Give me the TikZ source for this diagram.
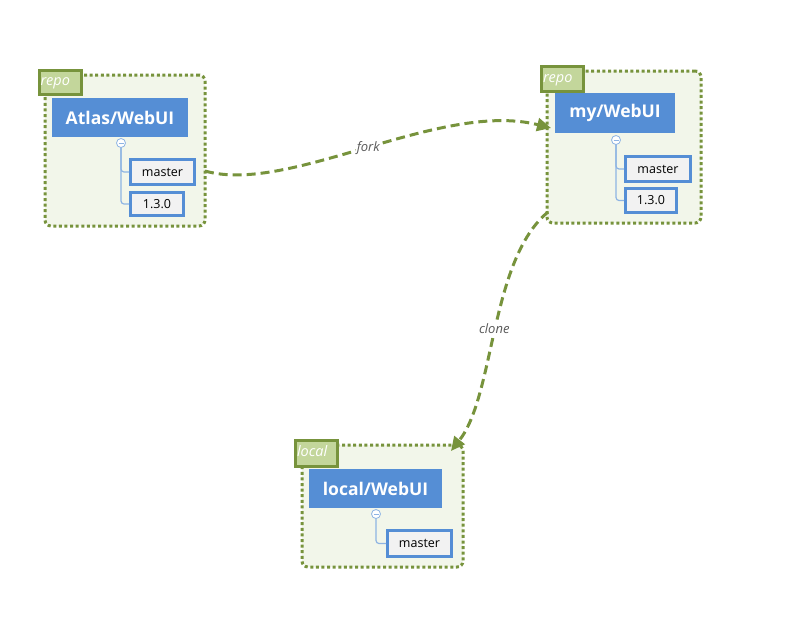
\documentclass[tikz,border=0pt]{standalone}
\usepackage{fontspec}
\setmainfont{Open Sans}
\usetikzlibrary{arrows.meta}
\definecolor{olive}{HTML}{77933C}
\definecolor{boxfill}{HTML}{F2F6EA}
\definecolor{tagfill}{HTML}{C3D69B}
\definecolor{mainblue}{HTML}{558ED5}
\definecolor{childfill}{HTML}{F2F2F2}
\definecolor{treeline}{HTML}{8EB4E3}
\definecolor{labelgray}{HTML}{595959}
\newcommand{\tagtext}[1]{\raisebox{-3pt}[0pt][0pt]{\makebox[39pt][l]{#1}}}
\tikzset{
  container/.style={draw=olive, fill=boxfill, line width=3pt, dash pattern=on 3pt off 2.6pt, rounded corners=6pt, inner sep=0pt},
  tag/.style={draw=olive, fill=tagfill, line width=3pt, inner xsep=1.5pt, inner ysep=0pt, text=white, font=\fontsize{14.5}{16}\selectfont\itshape},
  mainnode/.style={fill=mainblue, text=white, font=\fontsize{17.5}{20}\selectfont\bfseries, inner sep=0pt},
  childnode/.style={draw=mainblue, fill=childfill, line width=2.6pt, font=\fontsize{12.5}{15}\selectfont, inner sep=0pt},
  foldcircle/.style={circle, draw=treeline, fill=white, line width=0.8pt, minimum size=9pt, inner sep=0pt,
    path picture={\draw[treeline, line width=0.9pt] ([xshift=-2.5pt]path picture bounding box.center) -- ([xshift=2.5pt]path picture bounding box.center);}},
  treelink/.style={draw=treeline, line width=1.2pt, rounded corners=3pt},
  flow/.style={draw=olive, line width=3pt, dash pattern=on 9pt off 5pt, -{Triangle[length=14pt,width=13pt]}},
  flowlabel/.style={text=labelgray, font=\fontsize{13}{15}\selectfont\itshape, fill=white, inner sep=1pt}
}
\begin{document}
\begin{tikzpicture}[x=1pt,y=-1pt]
\useasboundingbox (0,0) rectangle (802,619);
% containers
\node[container, minimum width=160pt, minimum height=151pt] (A) at (125,150.5) {};
\node[container, minimum width=154pt, minimum height=152pt] (B) at (624,147) {};
\node[container, minimum width=161pt, minimum height=122pt] (C) at (382.5,506) {};
% tags
\node[tag, minimum height=24pt] (At) at (60,82.5) {\tagtext{repo}};
\node[tag, minimum height=25pt] (Bt) at (562.5,79) {\tagtext{repo}};
\node[tag, minimum height=26pt] (Ct) at (316.5,453.5) {\tagtext{local}};
% main nodes
\node[mainnode, minimum width=136pt, minimum height=39pt] (Am) at (120,117.5) {Atlas/WebUI};
\node[mainnode, minimum width=120pt, minimum height=40pt] (Bm) at (615,113) {my/WebUI};
\node[mainnode, minimum width=133pt, minimum height=39pt] (Cm) at (375.5,488.5) {local/WebUI};
% children
\node[childnode, minimum width=64.4pt, minimum height=25.4pt] (Am1) at (162.5,172) {master};
\node[childnode, minimum width=53.4pt, minimum height=23.4pt] (Am2) at (157,204) {1.3.0};
\node[childnode, minimum width=65.4pt, minimum height=25.4pt] (Bm1) at (658,169) {master};
\node[childnode, minimum width=51.4pt, minimum height=24.4pt] (Bm2) at (651,200.5) {1.3.0};
\node[childnode, minimum width=64.4pt, minimum height=26.4pt] (Cm1) at (419.5,543.5) {master};
% fold circle positions
\coordinate (AcP) at (121,143);
\coordinate (BcP) at (616,140);
\coordinate (CcP) at (376,514);
% tree links
\draw[treelink] (AcP) |- (Am1.west);
\draw[treelink] (AcP) |- (Am2.west);
\draw[treelink] (BcP) |- (Bm1.west);
\draw[treelink] (BcP) |- (Bm2.west);
\draw[treelink] (CcP) |- (Cm1.west);
% fold circles
\node[foldcircle] (Ac) at (AcP) {};
\node[foldcircle] (Bc) at (BcP) {};
\node[foldcircle] (Cc) at (CcP) {};
% flows
\coordinate (forkS) at (205,171);
\coordinate (forkE) at (551,128);
\coordinate (cloneS) at (548,212);
\coordinate (cloneE) at (451,451);
\draw[flow] (forkS) .. controls (290,195) and (440,100) .. node[flowlabel, pos=0.5] (forkL) {fork} (forkE);
\draw[flow] (cloneS) .. controls (490,260) and (495,395) .. node[flowlabel, pos=0.5] (cloneL) {clone} (cloneE);
\end{tikzpicture}
\end{document}
